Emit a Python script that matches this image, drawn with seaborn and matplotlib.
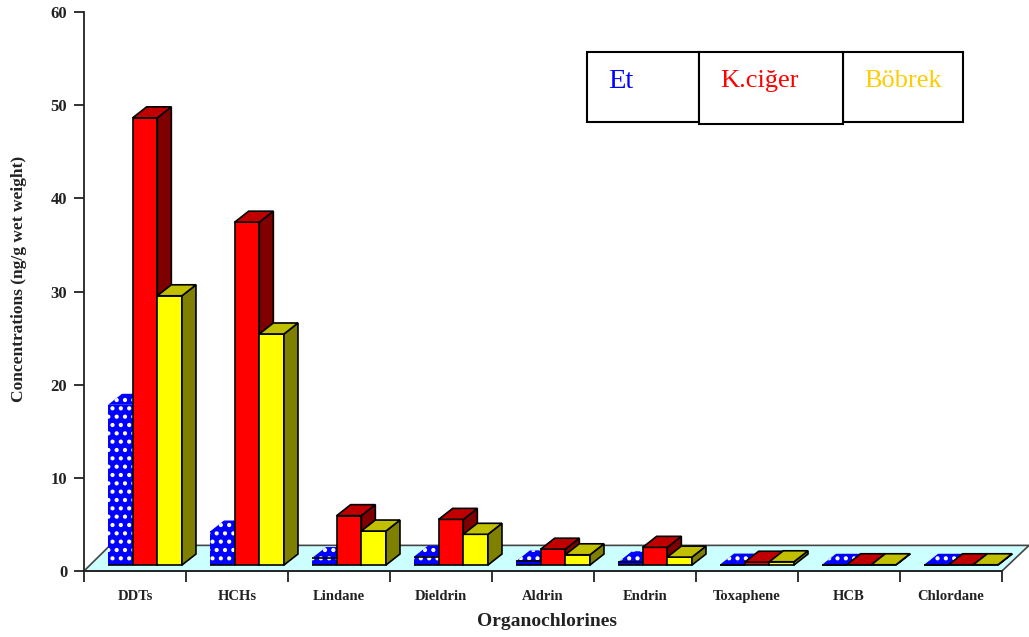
import pandas as pd
import matplotlib
matplotlib.use('Agg')
import matplotlib.pyplot as plt
import seaborn as sns
from matplotlib.patches import Polygon, Rectangle

categories = ['DDTs', 'HCHs', 'Lindane', 'Dieldrin', 'Aldrin', 'Endrin', 'Toxaphene', 'HCB', 'Chlordane']
et = [17.2, 3.6, 0.75, 0.9, 0.4, 0.3, 0.05, 0.03, 0.03]
kciger = [48.0, 36.8, 5.3, 4.9, 1.7, 1.9, 0.3, 0.03, 0.03]
bobrek = [28.9, 24.8, 3.65, 3.3, 1.1, 0.85, 0.35, 0.03, 0.03]
series = ['Et', 'K.ciğer', 'Böbrek']
y_ticks = [0, 10, 20, 30, 40, 50, 60]

W, H = 1029, 637

sns.set_style('ticks')
plt.rcParams['font.family'] = ['Liberation Serif', 'DejaVu Serif']
plt.rcParams['hatch.linewidth'] = 1.8

df = pd.DataFrame({'name': categories, 'Et': et, 'K.ciğer': kciger, 'Böbrek': bobrek})
df = df.melt(id_vars='name', var_name='tissue', value_name='conc')

fig = plt.figure(figsize=(W / 100, H / 100), dpi=100)
ax = fig.add_axes([84 / W, (H - 571) / H, (1002 - 84) / W, (571 - 12) / H])

sns.barplot(x='name', y='conc', hue='tissue', data=df, hue_order=series, order=categories,
            palette=['#0000FF', '#FF0000', '#FFFF00'], saturation=1, width=0.725, gap=0, dodge=True,
            legend=False, ax=ax, edgecolor='black', linewidth=1.2)

ax.set_xlim(-0.598, 8.402)
ax.set_ylim(0, 60)

# fake 3d depth, in data units
base = 0.64
dx = 14 / 102
dy = 1.18
tops = ['#0000FF', '#C00000', '#C0C000']
sides = ['#0000FF', '#800000', '#808000']

# floor under the bars
floor = Polygon([(-0.598, 0), (8.402, 0), (8.402 + 0.265, 2.75), (-0.598 + 0.255, 2.75)],
                closed=True, facecolor='#CCFFFF', edgecolor='#444444', linewidth=1.2,
                clip_on=False, zorder=1)
ax.add_patch(floor)

for i, cont in enumerate(ax.containers):
    z = 3 + i
    for bar in cont:
        bar.set_y(base)
        bar.set_zorder(z)
        bar.set_clip_on(False)
        x0, w, h = bar.get_x(), bar.get_width(), bar.get_height()
        x1 = x0 + w
        y1 = base + h
        top_pts = [(x0, y1), (x1, y1), (x1 + dx, y1 + dy), (x0 + dx, y1 + dy)]
        side_pts = [(x1, base), (x1 + dx, base + dy), (x1 + dx, y1 + dy), (x1, y1)]
        if i == 0:
            # dotted blue bars, no outline except near the floor
            bar.set_hatch('..')
            bar.set_edgecolor('white')
            bar.set_linewidth(0)
            ax.add_patch(Polygon(top_pts, closed=True, facecolor='#0000FF', edgecolor='white',
                                 hatch='..', linewidth=0, zorder=z, clip_on=False))
            ax.plot([x0, x1], [base, base], color='black', lw=1.2, zorder=z, solid_capstyle='butt')
            if h < 2:
                ax.plot([x0, x1], [y1, y1], color='black', lw=1.2, zorder=z, solid_capstyle='butt')
        else:
            ax.add_patch(Polygon(side_pts, closed=True, facecolor=sides[i], edgecolor='black',
                                 linewidth=1.2, zorder=z, clip_on=False))
            ax.add_patch(Polygon(top_pts, closed=True, facecolor=tops[i], edgecolor='black',
                                 linewidth=1.2, zorder=z, clip_on=False))

sns.despine(ax=ax)
for s in ['left', 'bottom']:
    ax.spines[s].set_linewidth(1.3)
    ax.spines[s].set_color('#222222')
    ax.spines[s].set_zorder(2)

ax.set_yticks(y_ticks)
ax.set_yticklabels(y_ticks, fontsize=12, fontweight='bold', color='#222222')
ax.tick_params(axis='y', length=7, width=1.3, pad=5, color='#222222')

# ticks sit between groups, labels are centered on the ticks' gaps
ax.set_xticks([-0.598 + k for k in range(10)])
ax.set_xticklabels([])
ax.tick_params(axis='x', which='major', length=8, width=1.3, color='#222222')
ax.set_xticks([k - 0.098 for k in range(9)], minor=True)
ax.set_xticklabels(categories, minor=True, fontsize=10.5, fontweight='bold', color='#222222')
ax.tick_params(axis='x', which='minor', length=0, pad=14)

ax.set_xlabel('')
ax.set_ylabel('')
fig.text(547 / W, 1 - 621 / H, 'Organochlorines', fontsize=14, fontweight='bold',
         ha='center', va='center', color='#222222')
fig.text(19 / W, 1 - 279 / H, 'Concentrations (ng/g wet weight)', fontsize=12.5, fontweight='bold',
         rotation=90, ha='center', va='center', color='#222222')

# hand drawn legend boxes
boxes = [(587, 52, 112, 70), (843, 52, 120, 70), (699, 52, 144, 72)]
for bx, by, bw, bh in boxes:
    fig.add_artist(Rectangle((bx / W, 1 - (by + bh) / H), bw / W, bh / H, transform=fig.transFigure,
                             facecolor='white', edgecolor='black', linewidth=1.5))
fig.text(608 / W, 1 - 82 / H, series[0], fontsize=20.5, color='#0000FF', ha='left', va='center')
fig.text(720 / W, 1 - 81 / H, series[1], fontsize=19, color='#FF0000', ha='left', va='center')
fig.text(864 / W, 1 - 81 / H, series[2], fontsize=19, color='#FFCC00', ha='left', va='center')

fig.savefig('out.png', dpi=100)
plt.close(fig)
